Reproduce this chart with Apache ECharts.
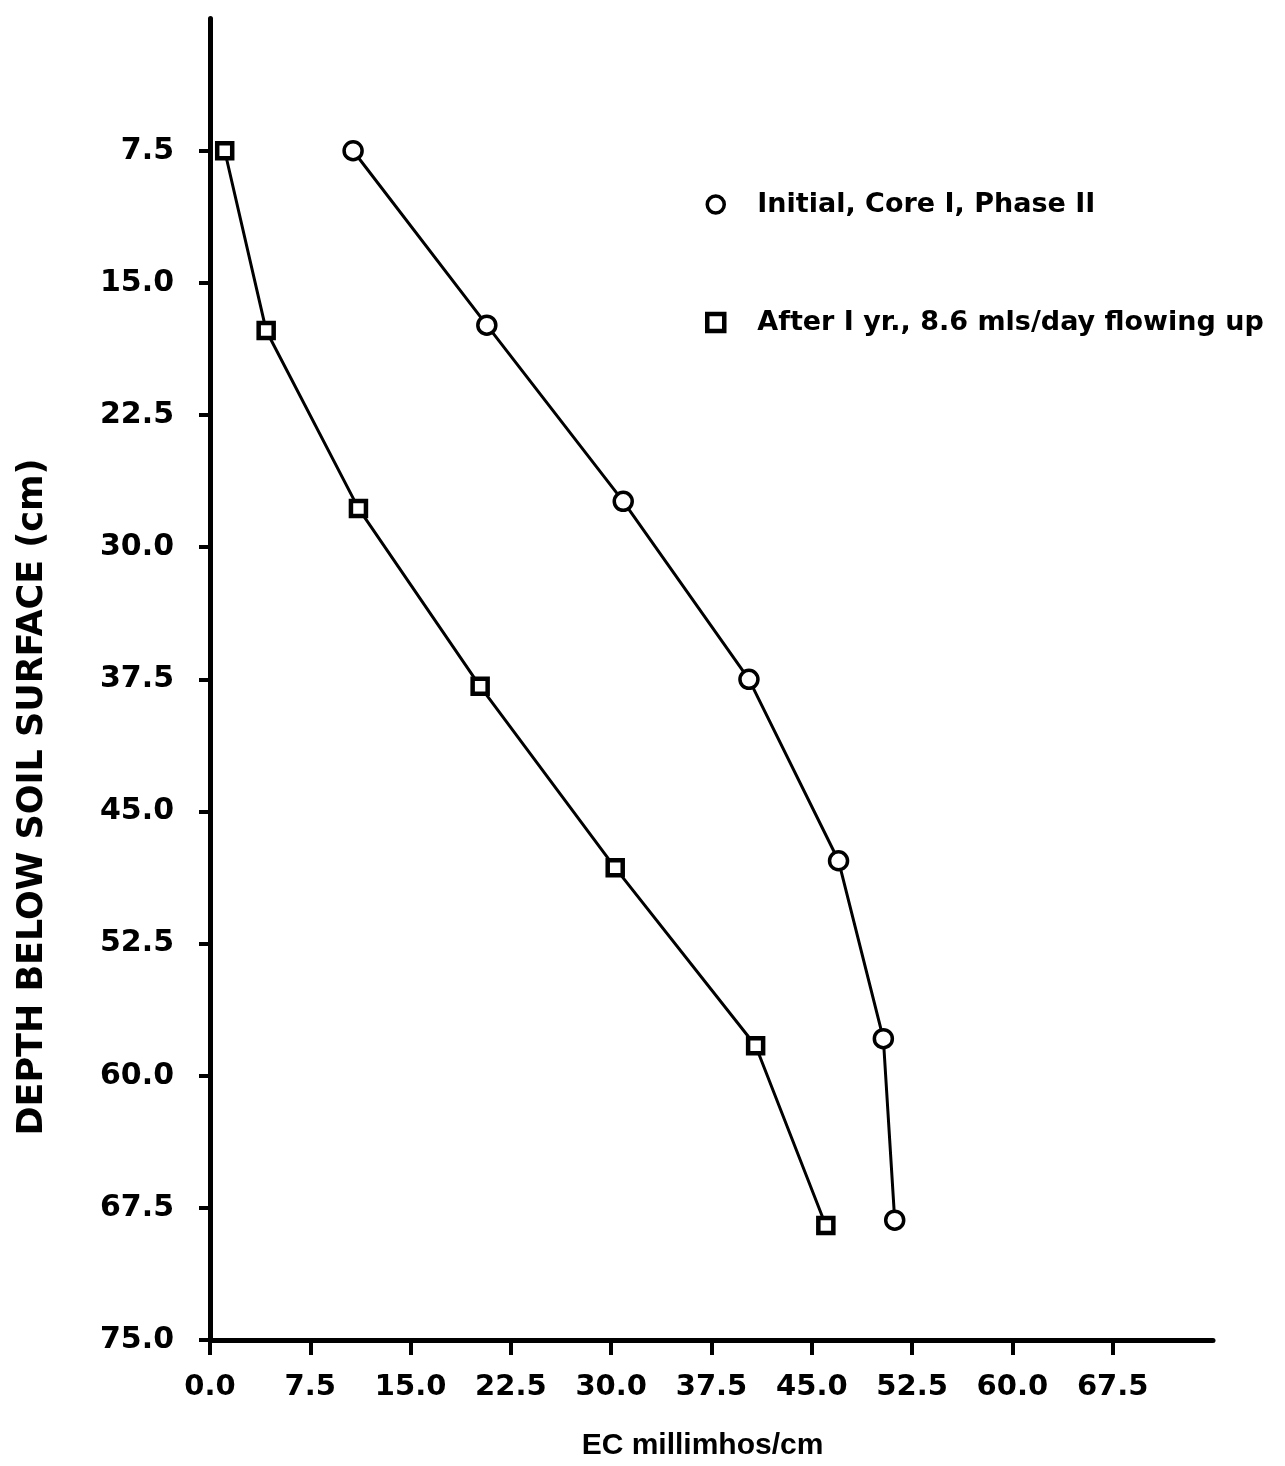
<!DOCTYPE html>
<html>
<head>
<meta charset="utf-8">
<script src="https://cdn.jsdelivr.net/npm/echarts@6/dist/echarts.min.js"></script>
<style>
  html, body { margin: 0; padding: 0; background: #fff; }
  #chart { width: 1285px; height: 1466px; }
</style>
</head>
<body>
<div id="chart"></div>
<script>
// Electrical conductivity profile with depth, before and after one year of upward flow
const seriesNames = ['Initial, Core I, Phase II', 'After I yr., 8.6 mls/day flowing up'];

const initialEC    = [10.7, 20.7, 30.9, 40.3, 47.0, 50.35, 51.2];
const initialDepth = [7.5, 17.4, 27.4, 37.5, 47.8, 57.9, 68.2];

const afterEC    = [1.1, 4.2, 11.1, 20.2, 30.3, 40.8, 46.05];
const afterDepth = [7.5, 17.7, 27.8, 37.9, 48.2, 58.3, 68.5];

const xTicks = [0, 7.5, 15, 22.5, 30, 37.5, 45, 52.5, 60, 67.5];
const yTicks = [7.5, 15, 22.5, 30, 37.5, 45, 52.5, 60, 67.5, 75];

const labelFont = '"DejaVu Sans", sans-serif';
const fmt = v => Number(v).toFixed(1);
const pairs = (xs, ys) => xs.map((x, i) => [x, ys[i]]);

const chart = echarts.init(document.getElementById('chart'), null, { renderer: 'canvas' });

chart.setOption({
  backgroundColor: '#fff',
  animation: false,
  grid: { left: 210, right: 72, top: 18.6, bottom: 123, containLabel: false },
  xAxis: {
    type: 'value',
    position: 'bottom',
    min: 0, max: 75, interval: 7.5,
    name: 'EC millimhos/cm',
    nameLocation: 'middle',
    nameGap: 91,
    nameTextStyle: {
      fontFamily: '"Liberation Sans", sans-serif', fontWeight: 'bold',
      fontSize: 30, color: '#000', padding: [0, 18, 0, 0]
    },
    axisLine: { onZero: false, lineStyle: { color: '#000', width: 5, cap: 'round' } },
    axisTick: { show: true, inside: false, length: 15, customValues: xTicks,
                lineStyle: { color: '#000', width: 4 } },
    axisLabel: { customValues: xTicks, formatter: fmt, margin: 33,
                 fontFamily: labelFont, fontWeight: 'bold', fontSize: 29, color: '#000' },
    splitLine: { show: false }
  },
  yAxis: {
    type: 'value',
    inverse: true,
    min: 0, max: 75, interval: 7.5,
    axisLine: { onZero: false, lineStyle: { color: '#000', width: 5, cap: 'round' } },
    axisTick: { show: true, inside: false, length: 11, customValues: yTicks,
                lineStyle: { color: '#000', width: 4 } },
    axisLabel: { customValues: yTicks, formatter: fmt, margin: 36,
                 fontFamily: labelFont, fontWeight: 'bold', fontSize: 30, color: '#000' },
    splitLine: { show: false }
  },
  legend: {
    orient: 'vertical',
    left: 700, top: 186,
    itemWidth: 17, itemHeight: 17,
    itemGap: 91,
    selectedMode: false,
    data: [
      { name: seriesNames[0], icon: 'circle',
        itemStyle: { color: '#fff', borderColor: '#000', borderWidth: 3.5 } },
      { name: seriesNames[1], icon: 'rect',
        itemStyle: { color: '#fff', borderColor: '#000', borderWidth: 4.5 } }
    ],
    textStyle: { fontFamily: labelFont, fontWeight: 'bold', fontSize: 27, color: '#000',
                 lineHeight: 20, padding: [0, 0, 0, 28] }
  },
  graphic: [{
    type: 'text',
    x: 33, y: 797,
    rotation: Math.PI / 2,
    style: {
      text: 'DEPTH BELOW SOIL SURFACE (cm)',
      font: 'bold 35px "DejaVu Sans", sans-serif',
      fill: '#000',
      align: 'center',
      verticalAlign: 'middle'
    }
  }],
  series: [
    {
      name: seriesNames[0],
      type: 'line',
      data: pairs(initialEC, initialDepth),
      symbol: 'circle',
      symbolSize: 18,
      itemStyle: { color: '#fff', borderColor: '#000', borderWidth: 3.5 },
      lineStyle: { color: '#000', width: 3 },
      z: 3
    },
    {
      name: seriesNames[1],
      type: 'line',
      data: pairs(afterEC, afterDepth),
      symbol: 'rect',
      symbolSize: 15,
      itemStyle: { color: '#fff', borderColor: '#000', borderWidth: 4.5 },
      lineStyle: { color: '#000', width: 3 },
      z: 3
    }
  ]
});
</script>
</body>
</html>
